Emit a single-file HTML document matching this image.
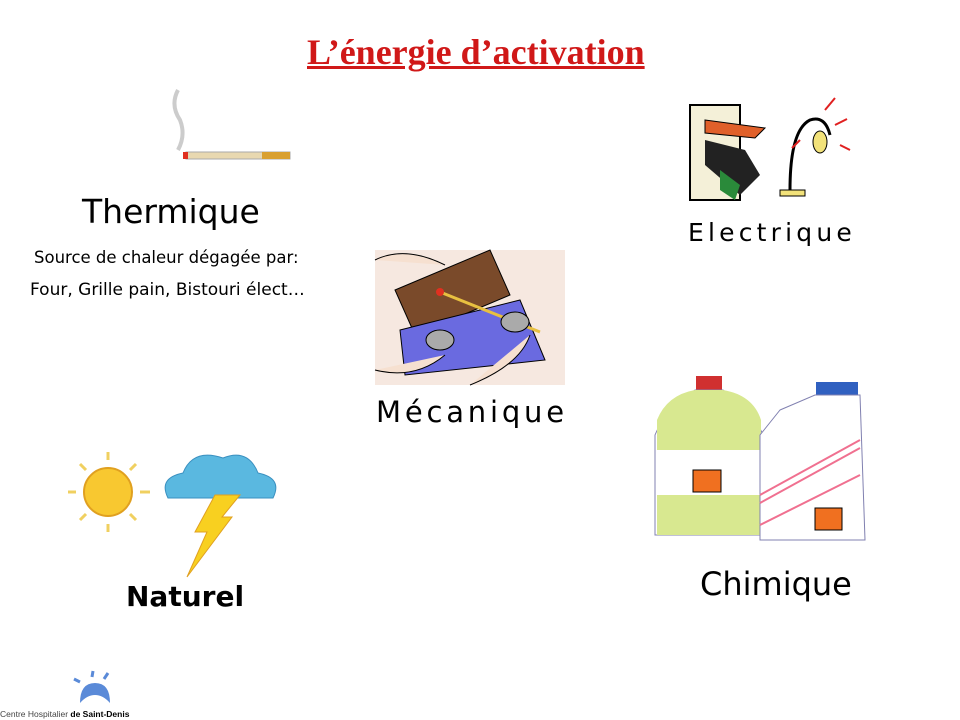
<!DOCTYPE html>
<html><head><meta charset="utf-8"><style>
body{margin:0;width:960px;height:720px;background:#fff;position:relative;overflow:hidden;font-family:"DejaVu Sans","Liberation Sans",sans-serif;}
.t{position:absolute;white-space:nowrap;color:#000}
svg{position:absolute;left:0;top:0}
</style></head><body>
<svg width="960" height="720">
<path d="M178 90 q-8 15 2 30 q6 15 -2 30" stroke="#ccc" stroke-width="4" fill="none"/>
<rect x="186" y="152" width="104" height="7" fill="#e8d8b0" stroke="#aaa"/>
<rect x="262" y="152" width="28" height="7" fill="#d9a030"/>
<rect x="183" y="152" width="5" height="7" fill="#e03020"/>
<rect x="690" y="105" width="50" height="95" fill="#f4f0d8" stroke="#000" stroke-width="2"/>
<path d="M705 120 l60 8 l-10 10 l-50 -5z" fill="#e0602a" stroke="#000"/>
<path d="M705 140 l40 10 l15 25 l-20 20 l-35 -30z" fill="#222"/>
<path d="M720 170 l20 15 l-5 15 l-15 -10z" fill="#2a8a3a"/>
<path d="M790 190 q0 -60 20 -70 q15 -5 20 15" stroke="#000" stroke-width="3" fill="none"/>
<ellipse cx="820" cy="142" rx="7" ry="11" fill="#f2e27a" stroke="#000"/>
<rect x="780" y="190" width="25" height="6" fill="#f2e27a" stroke="#000"/>
<path d="M825 110 l10 -12 M835 125 l12 -6 M800 140 l-8 8 M840 145 l10 5" stroke="#e02020" stroke-width="2"/>
<rect x="375" y="250" width="190" height="135" fill="#f6e8e0"/>
<path d="M395 290 l95 -40 l20 45 l-95 40z" fill="#7a4a2a" stroke="#000"/>
<path d="M400 330 l120 -30 l25 60 l-140 15z" fill="#6a6ae0" stroke="#000"/>
<path d="M440 292 l100 40" stroke="#e8c040" stroke-width="3"/>
<circle cx="440" cy="292" r="4" fill="#e03020"/>
<ellipse cx="440" cy="340" rx="14" ry="10" fill="#aaa" stroke="#000"/>
<ellipse cx="515" cy="322" rx="14" ry="10" fill="#aaa" stroke="#000"/>
<path d="M375 260 q30 -15 70 5 M375 370 q40 10 70 -15 M470 385 q50 -20 60 -50" stroke="#000" fill="#f6e0d0"/>
<circle cx="108" cy="492" r="24" fill="#f8c830" stroke="#e0a020" stroke-width="2"/>
<g stroke="#f0d060" stroke-width="3">
<line x1="108" y1="452" x2="108" y2="460"/><line x1="108" y1="524" x2="108" y2="532"/>
<line x1="68" y1="492" x2="76" y2="492"/><line x1="140" y1="492" x2="150" y2="492"/>
<line x1="80" y1="464" x2="86" y2="470"/><line x1="130" y1="514" x2="136" y2="520"/>
<line x1="80" y1="520" x2="86" y2="514"/><line x1="130" y1="470" x2="136" y2="464"/></g>
<path d="M168 498 q-10 -20 15 -25 q10 -25 40 -15 q25 -10 35 15 q25 5 15 25z" fill="#5ab8e0" stroke="#3a90c0"/>
<path d="M215 495 l25 0 l-18 22 l10 0 l-45 60 l20 -45 l-12 0z" fill="#f8d020" stroke="#e0a020"/>
<rect x="696" y="376" width="26" height="14" fill="#d03030"/>
<path d="M695 390 q-30 20 -40 45 l0 100 l108 0 l0 -100 q-10 -25 -40 -45z" fill="#ffffff" stroke="#8080b0"/>
<path d="M657 420 q10 -25 38 -30 h28 q30 5 38 30 l0 30 l-104 0z M657 495 h104 v40 h-104z" fill="#d8e890"/>
<rect x="693" y="470" width="28" height="22" fill="#f07020" stroke="#000"/>
<rect x="816" y="382" width="42" height="14" fill="#3060c0"/>
<path d="M780 410 l35 -15 h45 l5 145 h-105 v-105z" fill="#fff" stroke="#8080b0"/>
<path d="M760 495 l100 -55 M760 503 l100 -55 M760 525 l100 -50" stroke="#f07090" stroke-width="2"/>
<rect x="815" y="508" width="27" height="22" fill="#f07020" stroke="#000"/>
<path d="M80 703 q0 -20 15 -20 q15 0 15 20 q-7 -8 -15 -8 q-8 0 -15 8z" fill="#5a8ad8"/>
<path d="M92 677 l1 -6 M104 679 l4 -6 M80 682 l-6 -3" stroke="#5a8ad8" stroke-width="3"/>
</svg>
<div class="t" style="left:307px;top:31px;font-family:'Liberation Serif',serif;font-weight:bold;font-size:36px;color:#d01818;text-decoration:underline;">L’énergie d’activation</div>
<div class="t" style="left:82px;top:192px;font-size:33px;">Thermique</div>
<div class="t" style="left:34px;top:248px;font-size:16.5px;">Source de chaleur dégagée par:</div>
<div class="t" style="left:30px;top:280px;font-size:17px;">Four, Grille pain, Bistouri élect…</div>
<div class="t" style="left:688px;top:218px;font-size:25px;letter-spacing:4.2px;">Electrique</div>
<div class="t" style="left:376px;top:395px;font-size:29px;letter-spacing:3.8px;">Mécanique</div>
<div class="t" style="left:126px;top:580px;font-size:28px;font-weight:bold;">Naturel</div>
<div class="t" style="left:700px;top:565px;font-size:32px;">Chimique</div>
<div class="t" style="left:0px;top:709px;font-family:'Liberation Sans',sans-serif;font-size:8.5px;color:#444;">Centre Hospitalier <b style="color:#000">de Saint-Denis</b></div>
</body></html>
